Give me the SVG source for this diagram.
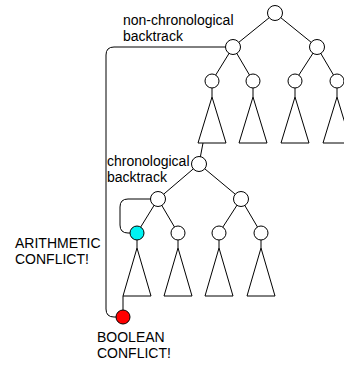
<svg xmlns="http://www.w3.org/2000/svg" width="344" height="367" viewBox="0 0 344 367">
<style>
.e{stroke:#000;stroke-width:1;fill:none}
.n{stroke:#000;stroke-width:1;fill:#fff}
.t{stroke:#000;stroke-width:1;fill:#fff}
.lbl{font-family:"Liberation Sans",Arial,sans-serif;font-size:14px;fill:#000}
</style>
<rect width="344" height="367" fill="#fff"/>
<g id="connectors">
<line class="e" x1="275" y1="13" x2="233" y2="47"/>
<line class="e" x1="275" y1="13" x2="317" y2="47"/>
<line class="e" x1="233" y1="47" x2="212" y2="81"/>
<line class="e" x1="233" y1="47" x2="253" y2="81"/>
<line class="e" x1="317" y1="47" x2="295" y2="81"/>
<line class="e" x1="317" y1="47" x2="337" y2="81"/>
<line class="e" x1="212" y1="81" x2="212" y2="97"/>
<line class="e" x1="253" y1="81" x2="253" y2="97"/>
<line class="e" x1="295" y1="81" x2="295" y2="97"/>
<line class="e" x1="337" y1="81" x2="337" y2="97"/>
<line class="e" x1="203" y1="143" x2="199" y2="164"/>
<line class="e" x1="199" y1="164" x2="158" y2="199"/>
<line class="e" x1="199" y1="164" x2="241" y2="199"/>
<line class="e" x1="158" y1="199" x2="137" y2="233"/>
<line class="e" x1="158" y1="199" x2="178" y2="233"/>
<line class="e" x1="241" y1="199" x2="219" y2="233"/>
<line class="e" x1="241" y1="199" x2="261" y2="233"/>
<line class="e" x1="137" y1="233" x2="137" y2="248"/>
<line class="e" x1="178" y1="233" x2="178" y2="248"/>
<line class="e" x1="219" y1="233" x2="219" y2="248"/>
<line class="e" x1="261" y1="233" x2="261" y2="248"/>
<line class="e" x1="123" y1="296" x2="123" y2="317"/>
<path id="nonchrono" class="e" d="M116,317 H114 Q106,317 106,309 V55 Q106,47 114,47 H226"/>
<path id="arith" class="e" d="M130,233 H128 Q120,233 120,225 V207 Q120,199 128,199 H151"/>
</g>
<g id="subtrees">
<polygon class="t" points="212,97 198,143 226,143"/>
<polygon class="t" points="253,97 239,143 267,143"/>
<polygon class="t" points="295,97 281,143 309,143"/>
<polygon class="t" points="337,97 323,143 351,143"/>
<polygon class="t" points="137,248 123,296 151,296"/>
<polygon class="t" points="178,248 164,296 192,296"/>
<polygon class="t" points="219,248 205,296 233,296"/>
<polygon class="t" points="261,248 247,296 275,296"/>
</g>
<g id="root"><circle class="n" cx="275" cy="13" r="7.5"/></g>
<g id="n1"><circle class="n" cx="233" cy="47" r="7.5"/></g>
<g id="n2"><circle class="n" cx="317" cy="47" r="7.5"/></g>
<g id="n11"><circle class="n" cx="212" cy="81" r="7"/></g>
<g id="n12"><circle class="n" cx="253" cy="81" r="7"/></g>
<g id="n21"><circle class="n" cx="295" cy="81" r="7"/></g>
<g id="n22"><circle class="n" cx="337" cy="81" r="7"/></g>
<g id="c"><circle class="n" cx="199" cy="164" r="7.5"/></g>
<g id="c1"><circle class="n" cx="158" cy="199" r="7.5"/></g>
<g id="c2"><circle class="n" cx="241" cy="199" r="7.5"/></g>
<g id="c11"><circle class="n" cx="137" cy="233" r="7" style="fill:#00f2f2"/></g>
<g id="c12"><circle class="n" cx="178" cy="233" r="7"/></g>
<g id="c21"><circle class="n" cx="219" cy="233" r="7"/></g>
<g id="c22"><circle class="n" cx="261" cy="233" r="7"/></g>
<g id="bool"><circle class="n" cx="123" cy="317" r="7" style="fill:#ff0000"/></g>
<g id="labels">
<text class="lbl" x="123" y="25">non-chronological</text>
<text class="lbl" x="123" y="41">backtrack</text>
<text class="lbl" x="107" y="166">chronological</text>
<text class="lbl" x="107" y="182">backtrack</text>
<text class="lbl" x="15" y="248">ARITHMETIC</text>
<text class="lbl" x="15" y="264">CONFLICT!</text>
<text class="lbl" x="97" y="342">BOOLEAN</text>
<text class="lbl" x="97" y="358">CONFLICT!</text>
</g>
</svg>
